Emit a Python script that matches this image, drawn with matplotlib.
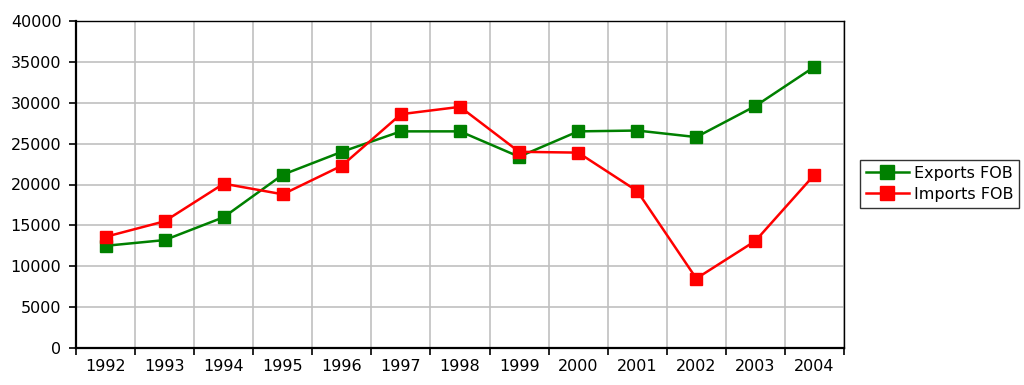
import numpy as np
import matplotlib.pyplot as plt

years = ["1992", "1993", "1994", "1995", "1996", "1997", "1998",
         "1999", "2000", "2001", "2002", "2003", "2004"]
exports_fob = [12500, 13200, 16000, 21200, 24000, 26500, 26500,
               23400, 26500, 26600, 25800, 29600, 34400]
imports_fob = [13600, 15500, 20100, 18800, 22300, 28600, 29500,
               24000, 23900, 19200, 8500, 13100, 21200]

fig = plt.figure(figsize=(10.24, 3.85), dpi=100)
ax = fig.add_axes([76 / 1024, 37 / 385, 768 / 1024, 327 / 385])

x = np.arange(len(years))
ax.plot(x, exports_fob, color="#008000", lw=1.8, marker="s", ms=9,
        label="Exports FOB", zorder=3)
ax.plot(x, imports_fob, color="#ff0000", lw=1.8, marker="s", ms=9,
        label="Imports FOB", zorder=3)

ax.set_xlim(-0.5, len(years) - 0.5)
ax.set_ylim(0, 40000)
ax.set_yticks(range(0, 40001, 5000))
ax.set_xticks(np.arange(-0.5, len(years), 1.0))
ax.set_xticklabels([])
ax.set_xticks(x, minor=True)
ax.set_xticklabels(years, minor=True)
ax.tick_params(axis="x", which="minor", length=0, pad=8, labelsize=11.5)
ax.tick_params(axis="x", which="major", length=5, width=1.2)
ax.tick_params(axis="y", length=5, width=1.2, pad=5.5, labelsize=11.5)
ax.grid(True, which="major", color="#c0c0c0", lw=1.2)
ax.set_axisbelow(True)
for side in ["left", "bottom"]:
    ax.spines[side].set_linewidth(1.6)
for side in ["top", "right"]:
    ax.spines[side].set_linewidth(1.0)

leg = fig.legend(loc="upper left", bbox_to_anchor=(860 / 1024, 1 - 160 / 385),
                 fontsize=11.5, frameon=True, fancybox=False, borderpad=0.35,
                 handlelength=2.7, handletextpad=0.3, labelspacing=0.4,
                 borderaxespad=0, markerscale=1.1)
leg.get_frame().set_edgecolor("black")
leg.get_frame().set_linewidth(1.0)

fig.savefig("out.png", dpi=100)
